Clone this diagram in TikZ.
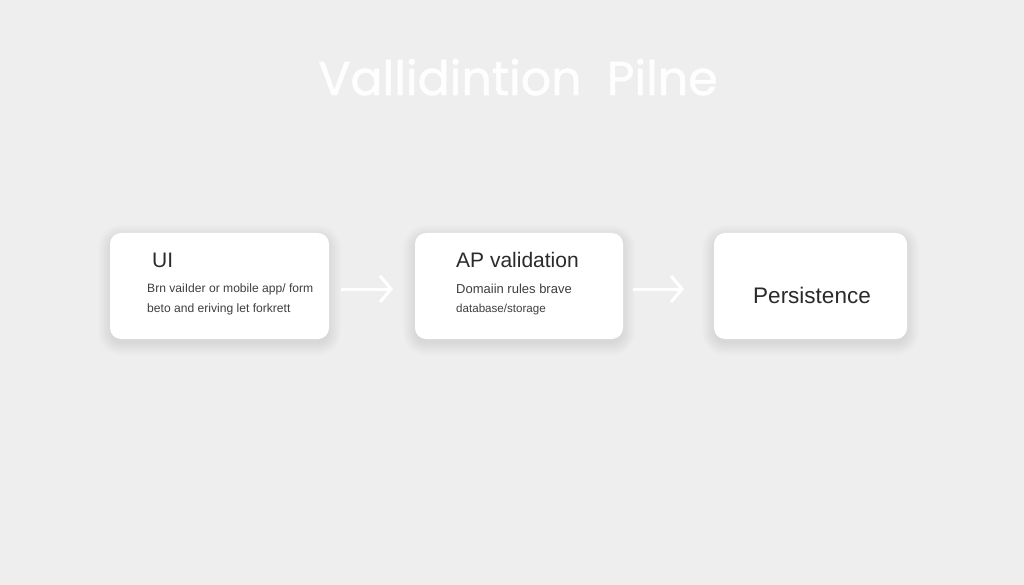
\documentclass[tikz,border=0pt]{standalone}
\usepackage{fontspec}
\setmainfont{Liberation Sans}
\newfontfamily\titlefont{Poppins}[FakeBold=1.2]
\usetikzlibrary{arrows.meta}
\definecolor{bg}{HTML}{EEEEEE}
\definecolor{txt}{HTML}{2A2A2A}
\tikzset{
  card/.style={draw=none,fill=white,rounded corners=11pt,inner sep=0pt},
  flow/.style={draw=white,line width=3pt,-{Straight Barb[length=11pt,width=26pt,line width=3pt]}},
  head/.style={anchor=base west,text=txt,font=\fontsize{21}{24}\selectfont,inner sep=0pt},
  sub/.style={anchor=base west,text=txt!90!white,font=\fontsize{12.1}{14}\selectfont,inner sep=0pt}
}
\newcommand{\softshadow}[4]{% cx cy w h
  \foreach \k in {0,...,10}{
    \fill[black,opacity=0.007,rounded corners=11pt+\k*1.2pt]
      ({#1-#3/2-\k*1.2},{#2-#4/2-\k*1.2+4}) rectangle ({#1+#3/2+\k*1.2},{#2+#4/2+\k*1.2+4});
  }
}
\begin{document}
\begin{tikzpicture}[x=1pt,y=-1pt]
\useasboundingbox[fill=bg] (0,0) rectangle (1024,585);
\node[text=white!97!bg,font=\titlefont\fontsize{47.5}{54}\selectfont,anchor=base] (title) at (518,95) {Vallidintion\ \ Pilne};
\softshadow{219.5}{286}{219}{106}
\softshadow{519}{286}{208}{106}
\softshadow{810.5}{286}{193}{106}
\node[card,minimum width=219pt,minimum height=106pt] (ui) at (219.5,286) {};
\node[card,minimum width=208pt,minimum height=106pt] (api) at (519,286) {};
\node[card,minimum width=193pt,minimum height=106pt] (pers) at (810.5,286) {};
\node[head] (uih) at (152,267) {UI};
\node[sub] (uis1) at (147,292) {Brn vaiIder or mobile app/ form};
\node[sub] (uis2) at (147,312) {beto and eriving let forkrett};
\node[head] (apih) at (456,267) {AP validation};
\node[sub,font=\fontsize{13}{15}\selectfont] (apis1) at (456,293) {Domaiin rules brave};
\node[sub,font=\fontsize{11.6}{14}\selectfont] (apis2) at (456,312) {database/storage};
\node[head,anchor=center,font=\fontsize{22.5}{26}\selectfont] (persh) at (812,295) {Persistence};
\coordinate (a1s) at (341,289); \coordinate (a1e) at (393,289);
\coordinate (a2s) at (633,289); \coordinate (a2e) at (684,289);
\draw[flow] (a1s) -- (a1e);
\draw[flow] (a2s) -- (a2e);
\end{tikzpicture}
\end{document}
